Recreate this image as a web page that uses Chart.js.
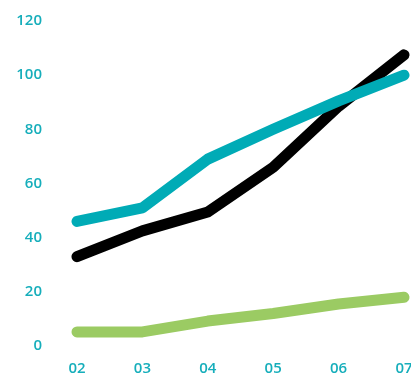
<!DOCTYPE html>
<html>
<head>
<meta charset="utf-8">
<script src="https://cdn.jsdelivr.net/npm/chart.js@4"></script>
<style>
html,body{margin:0;padding:0;background:#fff;overflow:hidden;}
canvas{display:block;}
</style>
</head>
<body>
<canvas id="lineChart" width="411" height="374"></canvas>
<script>

// DATA

const years = ['02','03','04','05','06','07']
const tealValues = [46,51,69,80,90.5,100]
const blackValues = [33,42.5,49.5,66,88.5,107.5]
const greenValues = [5.2,5.2,9.2,12,15.5,18]
const yTicks = [0,20,40,60,80,100,120]

const labelColor = '#16aebb'

function line(data, color){
return {
data: data,
borderColor: color,
backgroundColor: color,
borderWidth: 11,
borderCapStyle: 'round',
borderJoinStyle: 'round',
pointRadius: 0,
tension: 0,
clip: false
}
}

// CHART

const ctx = document.getElementById('lineChart')

new Chart(ctx, {

type: 'line',

data: {
labels: years,
datasets: [
line(greenValues, '#9bcb63'),
line(tealValues, '#00abb6'),
line(blackValues, '#000000')
]
},

options: {
responsive: false,
animation: false,
layout: { padding: { top: 21, right: 7, left: 0, bottom: 0 } },
plugins: {
legend: { display: false },
tooltip: { enabled: false }
},
scales: {
x: {
offset: false,
grid: { display: false },
border: { display: false },
ticks: {
color: labelColor,
padding: 6,
maxRotation: 0,
autoSkip: false,
font: { family: 'Open Sans', size: 15, weight: '600' }
},
afterFit: function(scale){
scale.height = 28
scale.paddingLeft = 0
scale.paddingRight = 0
}
},
y: {
min: 0,
max: 120,
grid: { display: false },
border: { display: false },
afterBuildTicks: function(scale){
scale.ticks = yTicks.map(v => ({ value: v }))
},
ticks: {
color: labelColor,
padding: 27,
font: { family: 'Open Sans', size: 15, weight: '600' }
},
afterFit: function(scale){
scale.width = 77
scale.paddingTop = 0
scale.paddingBottom = 0
}
}
}
}

})

</script>
</body>
</html>
